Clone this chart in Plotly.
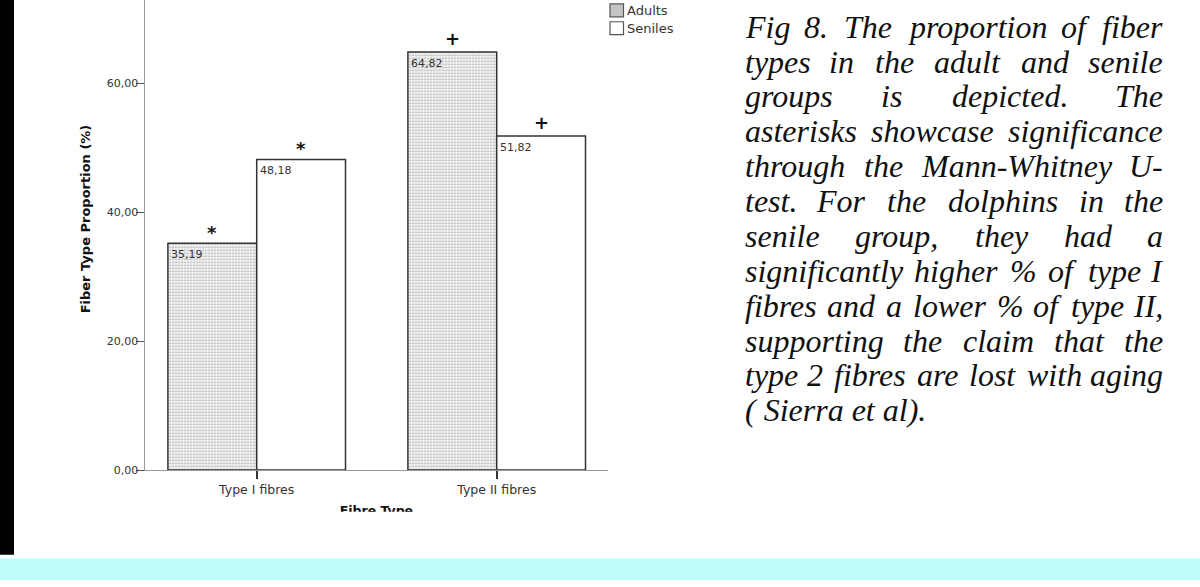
import plotly.graph_objects as go

W, H = 1200, 587

# ---- data ----
categories = ["Type I fibres", "Type II fibres"]
adults = [35.19, 64.82]
seniles = [48.18, 51.82]
adult_marks = ["*", "+"]
senile_marks = ["*", "+"]
y_ticks = [0, 20, 40, 60]
series_names = ["Adults", "Seniles"]
x_title = "Fibre Type"
y_title = "Fiber Type Proportion (%)"
caption_lines = [
    "Fig 8. The proportion of fiber",
    "types in the adult and senile",
    "groups is depicted. The",
    "asterisks showcase significance",
    "through the Mann-Whitney U-",
    "test. For the dolphins in the",
    "senile group, they had a",
    "significantly higher % of type I",
    "fibres and a lower % of type II,",
    "supporting the claim that the",
    "type 2 fibres are lost with aging",
    "( Sierra et al).",
]

# ---- helpers: pixel -> paper ----
def px(x):
    return x / W


def py(y):
    return 1 - y / H


BAR_W = 0.37
AX_FONT = "DejaVu Sans"
TXT = "#333333"

fig = go.Figure()

fig.add_trace(go.Bar(
    x=categories, y=adults, name=series_names[0], width=BAR_W, offset=-BAR_W,
    marker=dict(color="white",
                pattern=dict(shape=".", fgcolor="#7a7a7a", bgcolor="white",
                             size=3, solidity=0.45),
                line=dict(color="#333333", width=1.5)),
    showlegend=False,
))
fig.add_trace(go.Bar(
    x=categories, y=seniles, name=series_names[1], width=BAR_W, offset=0,
    marker=dict(color="white", line=dict(color="#333333", width=1.5)),
    showlegend=False,
))

annotations = []
for i, (a, s) in enumerate(zip(adults, seniles)):
    for val, off, mark in ((a, -BAR_W, adult_marks[i]), (s, 0.0, senile_marks[i])):
        # value label in the top-left corner of the bar
        annotations.append(dict(
            x=i + off, y=val, xref="x", yref="y", showarrow=False,
            text=f"{val:.2f}".replace(".", ","), xanchor="left", yanchor="top",
            xshift=1, yshift=-3, font=dict(family=AX_FONT, size=11, color=TXT)))
        # significance mark above the bar
        annotations.append(dict(
            x=i + off + BAR_W / 2, y=val, xref="x", yref="y", showarrow=False,
            text=mark, xanchor="center", yanchor="bottom",
            yshift=-2 if mark == "*" else 1,
            font=dict(family=AX_FONT, size=18, color="#111111", weight="bold")))

# y axis title
annotations.append(dict(
    x=px(85), y=py(222), xref="paper", yref="paper", showarrow=False,
    text=y_title, textangle=-90, xanchor="center", yanchor="middle",
    font=dict(family=AX_FONT, size=13, color="#111111", weight="bold")))

# legend entries
shapes = []
legend_fill = ["#c4c4c4", "white"]
for k, name in enumerate(series_names):
    top = 4 + 18 * k
    shapes.append(dict(type="rect", xref="paper", yref="paper",
                       x0=px(610), x1=px(623.5), y0=py(top + 13), y1=py(top),
                       fillcolor=legend_fill[k], line=dict(color="#555555", width=1.2)))
    annotations.append(dict(
        x=px(625), y=py(top + 6.5), xref="paper", yref="paper", showarrow=False,
        text=name, xanchor="left", yanchor="middle",
        font=dict(family=AX_FONT, size=13, color=TXT)))

# frame decorations: black strip on the left, cyan band at the bottom
shapes.append(dict(type="rect", xref="paper", yref="paper", x0=0, x1=px(14),
                   y0=py(561.5), y1=1, fillcolor="black", line=dict(width=0)))
shapes.append(dict(type="rect", xref="paper", yref="paper", x0=0, x1=1,
                   y0=0, y1=py(565), fillcolor="#bffff9", line=dict(width=0)))

# ---- justified italic caption ----
TIMES_I = {' ': 250, 'a': 500, 'b': 500, 'c': 444, 'd': 500, 'e': 444, 'f': 278,
           'g': 500, 'h': 500, 'i': 278, 'j': 278, 'k': 444, 'l': 278, 'm': 722,
           'n': 500, 'o': 500, 'p': 500, 'q': 500, 'r': 389, 's': 389, 't': 278,
           'u': 500, 'v': 444, 'w': 667, 'x': 444, 'y': 444, 'z': 389,
           'A': 611, 'B': 611, 'C': 667, 'D': 722, 'E': 611, 'F': 611, 'G': 722,
           'H': 722, 'I': 333, 'J': 444, 'K': 667, 'L': 556, 'M': 833, 'N': 667,
           'O': 722, 'P': 611, 'Q': 722, 'R': 611, 'S': 500, 'T': 556, 'U': 722,
           'V': 611, 'W': 833, 'X': 611, 'Y': 556, 'Z': 556,
           '.': 250, ',': 250, '-': 333, '%': 833, '(': 333, ')': 333}
CAP_SIZE = 32
CAP_L, CAP_R = 743, 1165
CAP_Y0, CAP_DY = 27, 35.3
cap_font = dict(family="Liberation Serif", size=CAP_SIZE, color="#111111", style="italic")


def word_w(w):
    return sum(TIMES_I.get(c, 500) for c in w) * CAP_SIZE / 1000


for n, line in enumerate(caption_lines):
    yc = py(CAP_Y0 + CAP_DY * n)
    words = line.split(" ")
    if n == len(caption_lines) - 1 or len(words) == 1:
        annotations.append(dict(x=px(CAP_L), y=yc, xref="paper", yref="paper",
                                showarrow=False, text=line, xanchor="left",
                                yanchor="middle", font=cap_font))
        continue
    widths = [word_w(w) for w in words]
    gap = (CAP_R - CAP_L - sum(widths)) / (len(words) - 1)
    xpos = CAP_L
    for j, (w, ww) in enumerate(zip(words, widths)):
        if j == 0:
            xa, xx = "left", xpos
        elif j == len(words) - 1:
            xa, xx = "right", CAP_R
        else:
            xa, xx = "center", xpos + ww / 2
        annotations.append(dict(x=px(xx), y=yc, xref="paper", yref="paper",
                                showarrow=False, text=w, xanchor=xa,
                                yanchor="middle", font=cap_font))
        xpos += ww + gap

# x axis title, cut off at the lower edge of its strip
fig.add_trace(go.Scatter(
    x=[0.5], y=[0], mode="text", text=[x_title], textposition="middle center",
    textfont=dict(family=AX_FONT, size=12.5, color="#111111", weight="bold"),
    xaxis="x2", yaxis="y2", cliponaxis=True, showlegend=False, hoverinfo="skip",
))

y_top = 475.7 / 6.525

fig.update_layout(
    width=W, height=H, margin=dict(l=0, r=0, t=0, b=0),
    paper_bgcolor="white", plot_bgcolor="white",
    separators=",.", barmode="overlay", showlegend=False,
    xaxis=dict(domain=[px(144.5), px(608.3)], type="category",
               range=[-0.4675, 1.465], showgrid=False, zeroline=False,
               showline=True, linecolor="#9a9a9a", linewidth=1,
               ticks="outside", ticklen=8, tickwidth=1.5, tickcolor="#333333",
               tickfont=dict(family=AX_FONT, size=12.5, color=TXT)),
    yaxis=dict(domain=[py(475.7), 1], range=[0, y_top], tickvals=y_ticks,
               tickformat=".2f", showgrid=False, zeroline=False,
               showline=True, linecolor="#9a9a9a", linewidth=1,
               ticks="outside", ticklen=8, tickwidth=1, tickcolor="#555555",
               ticklabelstandoff=-5,
               tickfont=dict(family=AX_FONT, size=11, color=TXT)),
    xaxis2=dict(domain=[px(144.5), px(608.3)], range=[0, 1], visible=False,
                anchor="y2"),
    yaxis2=dict(domain=[py(518), py(505)], range=[0, 1], visible=False,
                anchor="x2"),
    annotations=annotations, shapes=shapes,
)

fig.write_html("out.html", config={"displayModeBar": False})
